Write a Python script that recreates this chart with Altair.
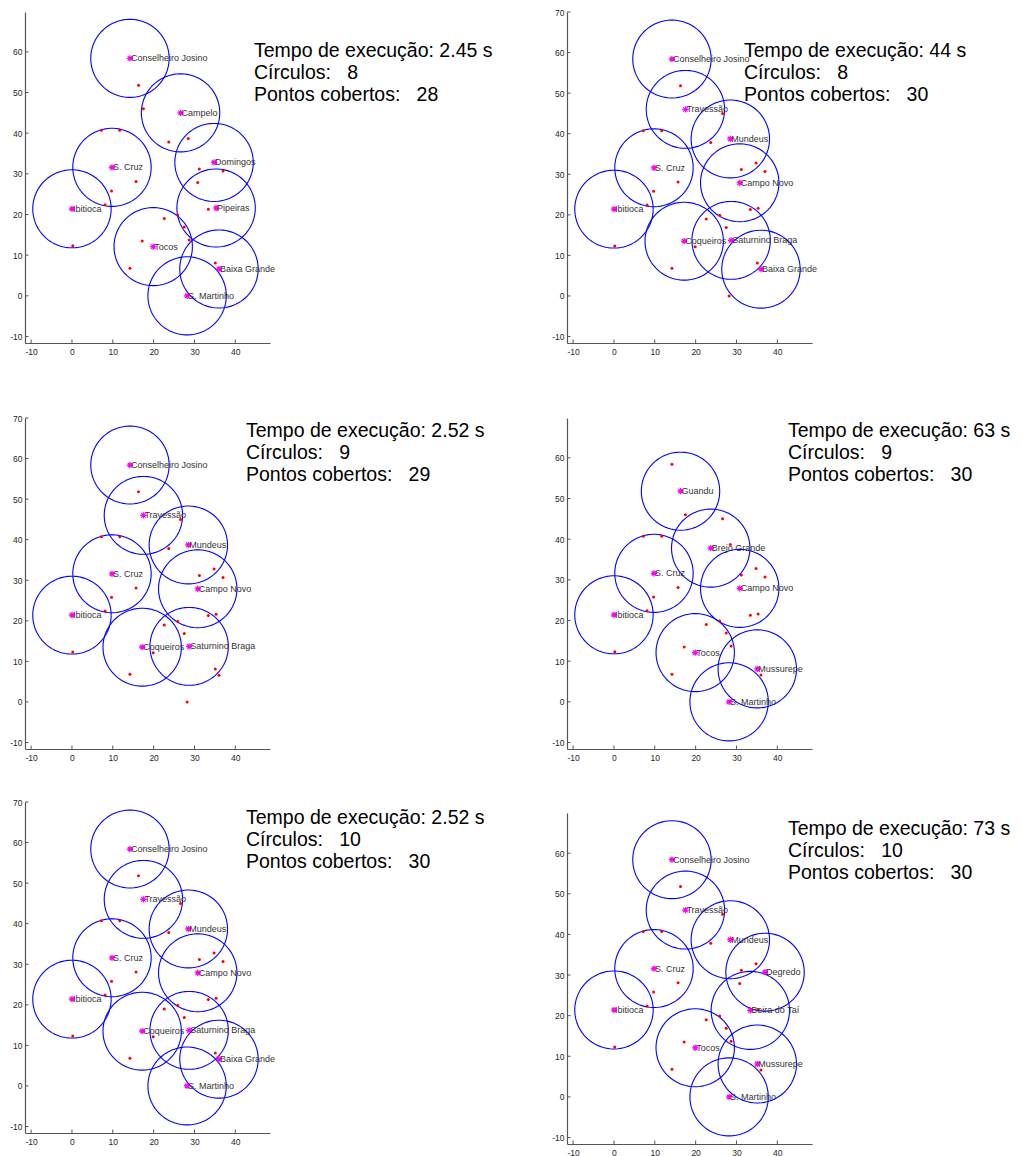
import altair as alt
import numpy as np
import pandas as pd

# Localities (coordinates in km); unnamed entries are demand points only
loc_name = ["Conselheiro Josino", "Guandu", "Travessão", "Campelo", "", "",
            "Brejo Grande", "Mundeus", "S. Cruz", "Domingos", "", "Degredo",
            "Campo Novo", "", "", "", "Ibitioca", "Beira do Taí", "Pipeiras", "",
            "", "", "Coqueiros", "Saturnino Braga", "Tocos", "", "", "Mussurepe",
            "Baixa Grande", "S. Martinho"]
loc_x = [14.2, 16.3, 17.5, 26.6, 7.2, 11.7, 23.7, 28.5, 9.8, 34.8, 31.2, 37.0,
         30.8, 15.7, 9.7, 8.1, 0.0, 33.4, 35.3, 25.9, 22.6, 27.5, 17.2, 28.7,
         19.9, 0.2, 14.2, 35.1, 36.0, 28.2]
loc_y = [58.4, 51.8, 46.0, 45.0, 40.7, 40.7, 37.8, 38.7, 31.6, 32.8, 31.2, 30.7,
         27.9, 28.1, 25.8, 22.4, 21.4, 21.3, 21.6, 19.9, 19.0, 16.9, 13.5, 13.7,
         12.1, 12.3, 6.8, 8.1, 6.6, 0.0]

# Coverage radius of each facility
radius = 9.6

# Facility sets chosen by each run
centers_1 = ["Conselheiro Josino", "Campelo", "S. Cruz", "Domingos", "Ibitioca",
             "Pipeiras", "Tocos", "Baixa Grande", "S. Martinho"]
centers_2 = ["Conselheiro Josino", "Travessão", "Mundeus", "S. Cruz", "Campo Novo",
             "Ibitioca", "Coqueiros", "Saturnino Braga", "Baixa Grande"]
centers_3 = ["Conselheiro Josino", "Travessão", "Mundeus", "S. Cruz", "Campo Novo",
             "Ibitioca", "Coqueiros", "Saturnino Braga"]
centers_4 = ["Guandu", "Brejo Grande", "S. Cruz", "Campo Novo", "Ibitioca",
             "Tocos", "Mussurepe", "S. Martinho"]
centers_5 = ["Conselheiro Josino", "Travessão", "Mundeus", "S. Cruz", "Campo Novo",
             "Ibitioca", "Coqueiros", "Saturnino Braga", "Baixa Grande", "S. Martinho"]
centers_6 = ["Conselheiro Josino", "Travessão", "Mundeus", "S. Cruz", "Degredo",
             "Ibitioca", "Beira do Taí", "Tocos", "Mussurepe", "S. Martinho"]
panel_centers = [centers_1, centers_2, centers_3, centers_4, centers_5, centers_6]

# Run summaries
exec_time = ["2.45 s", "44 s", "2.52 s", "63 s", "2.52 s", "73 s"]
n_circles = [8, 8, 9, 9, 10, 10]
n_covered = [28, 30, 29, 30, 30, 30]

# Axis tick values
x_ticks = [-10, 0, 10, 20, 30, 40]
y_ticks = [-10, 0, 10, 20, 30, 40, 50, 60, 70]

# Panel geometry (pixels) and axis limits
PW = 245
PH = 331
y_max = [69.8, 70.0, 70.0, 69.8, 70.0, 69.9]
y_min = -11.6
x_dom = [-11.5, 48.5]
top_shift = [0, 0, 22, 22, 0, 11]        # empty band above each plot box
note_pos = [(229, 39), (177, 39), (221, 13), (221, 13), (221, 16), (221, 16)]

AX = "#555555"
LBL = "#262626"
FONT = "Liberation Sans"

pts = pd.DataFrame({"x": loc_x, "y": loc_y, "name": loc_name})
name_idx = {n: i for i, n in enumerate(loc_name) if n}


def make_panel(k):
    centers = panel_centers[k]
    shift = top_shift[k]
    h = PH + shift
    xs = alt.Scale(domain=x_dom, nice=False, zero=False)
    ys = alt.Scale(domain=[y_min, y_max[k]], nice=False, zero=False, range=[h, shift])
    yt = [v for v in y_ticks if v <= y_max[k]]

    # circle outlines around each chosen facility
    rows = []
    for c in centers:
        i = name_idx[c]
        for j, t in enumerate(np.deg2rad(np.arange(0, 361, 4))):
            rows.append({"c": c, "o": j,
                         "x": loc_x[i] + radius * np.cos(t),
                         "y": loc_y[i] + radius * np.sin(t)})
    circ = pd.DataFrame(rows)
    cen = pts[pts["name"].isin(centers)]

    xa = alt.Axis(values=x_ticks, ticks=False, grid=False, domainColor=AX,
                  domainWidth=1.2, labelColor=LBL, labelFontSize=8.5, labelFont=FONT,
                  labelPadding=4, labelExpr="'' + datum.value")
    ya = alt.Axis(values=yt, ticks=False, grid=False, domainColor=AX,
                  domainWidth=1.2, labelColor=LBL, labelFontSize=8.5, labelFont=FONT,
                  labelPadding=3, labelExpr="'' + datum.value")

    circles = alt.Chart(circ).mark_line(color="#0000ff", strokeWidth=1.1).encode(
        x=alt.X("x:Q", scale=xs, axis=xa, title=None),
        y=alt.Y("y:Q", scale=ys, axis=ya, title=None),
        detail="c:N",
        order="o:Q",
    )
    dots = alt.Chart(pts).mark_circle(color="#ff0000", size=9, opacity=1).encode(
        x=alt.X("x:Q", scale=xs), y=alt.Y("y:Q", scale=ys))
    star = alt.Chart(cen).mark_point(
        shape="M-1,0H1M0,-1V1M-0.7,-0.7L0.7,0.7M-0.7,0.7L0.7,-0.7",
        filled=False, color="#ff00ff", size=40, strokeWidth=1.2, opacity=1
    ).encode(x=alt.X("x:Q", scale=xs), y=alt.Y("y:Q", scale=ys))
    names = alt.Chart(cen).mark_text(
        align="left", baseline="middle", dx=1, fontSize=9, font=FONT, color="#333333"
    ).encode(x=alt.X("x:Q", scale=xs), y=alt.Y("y:Q", scale=ys), text="name:N")

    xt = alt.Chart(pd.DataFrame({"v": x_ticks})).mark_rule(color=AX, strokeWidth=1).encode(
        x=alt.X("v:Q", scale=xs), y=alt.value(h), y2=alt.value(h - 3.5))
    ytk = alt.Chart(pd.DataFrame({"v": yt})).mark_rule(color=AX, strokeWidth=1).encode(
        y=alt.Y("v:Q", scale=ys), x=alt.value(0), x2=alt.value(3.5))

    note_txt = (f"Tempo de execução: {exec_time[k]}\n"
                f"Círculos:\u00a0\u00a0\u00a0{n_circles[k]}\n"
                f"Pontos cobertos:\u00a0\u00a0\u00a0{n_covered[k]}")
    nx, ny = note_pos[k]
    note = alt.Chart(pd.DataFrame({"t": [note_txt]})).mark_text(
        align="left", baseline="middle", lineBreak="\n", lineHeight=22,
        fontSize=19.5, font=FONT, color="#000000"
    ).encode(x=alt.value(nx), y=alt.value(ny + shift), text="t:N")

    return alt.layer(circles, dots, star, names, xt, ytk, note).properties(
        width=PW, height=h)


panels = [make_panel(k) for k in range(6)]

chart = alt.concat(
    *panels, columns=2, spacing={"row": 53, "column": 297}, bounds="flush"
).properties(
    padding={"left": 9, "top": 8, "right": 0, "bottom": 0},
    background="#ffffff",
).configure_view(stroke=None)

chart.save("out.html", embed_options={"renderer": "svg", "actions": False})
